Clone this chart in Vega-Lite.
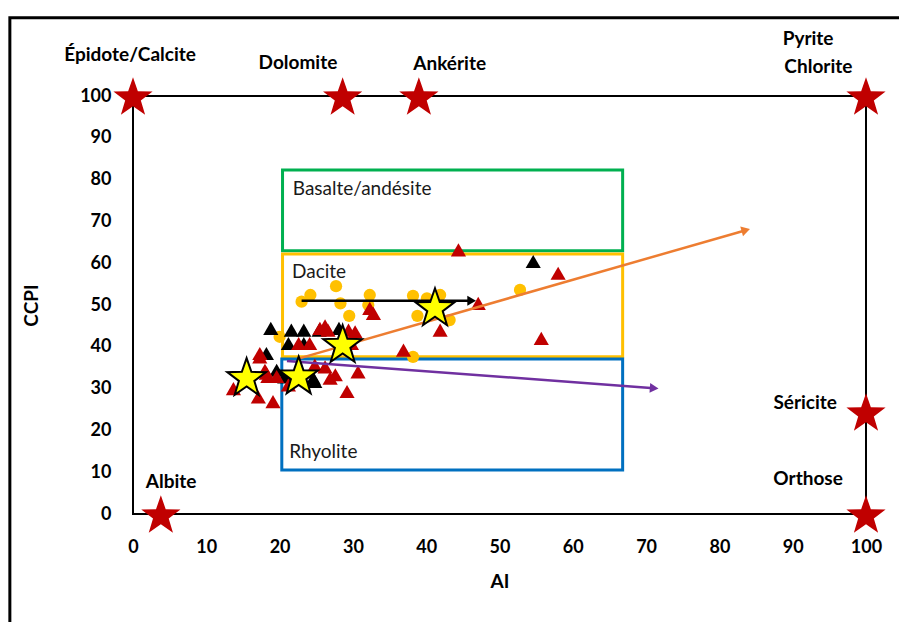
{
  "$schema": "https://vega.github.io/schema/vega-lite/v6.json",
  "width": 733,
  "height": 418,
  "autosize": "none",
  "padding": {"left": 133, "top": 96, "right": 33, "bottom": 108},
  "background": "white",
  "config": {
    "font": "Lato",
    "view": {"stroke": "black", "strokeWidth": 2},
    "axis": {"grid": false, "ticks": false, "domain": false, "labelFlush": false, "labelFont": "Lato", "labelFontWeight": "bold", "labelFontSize": 18, "labelColor": "black", "titleFont": "Lato", "titleFontWeight": "bold", "titleFontSize": 19, "titleColor": "black"}
  },
  "datasets": {
    "pts": [
      {"t": "circle", "AI": 23.0, "CCPI": 50.8},
      {"t": "circle", "AI": 24.2, "CCPI": 52.4},
      {"t": "circle", "AI": 27.7, "CCPI": 54.5},
      {"t": "circle", "AI": 28.3, "CCPI": 50.4},
      {"t": "circle", "AI": 29.5, "CCPI": 47.4},
      {"t": "circle", "AI": 32.3, "CCPI": 52.4},
      {"t": "circle", "AI": 32.1, "CCPI": 50.0},
      {"t": "circle", "AI": 38.2, "CCPI": 52.2},
      {"t": "circle", "AI": 38.8, "CCPI": 47.4},
      {"t": "circle", "AI": 40.1, "CCPI": 51.6},
      {"t": "circle", "AI": 41.9, "CCPI": 52.4},
      {"t": "circle", "AI": 43.2, "CCPI": 46.4},
      {"t": "circle", "AI": 52.8, "CCPI": 53.6},
      {"t": "circle", "AI": 38.2, "CCPI": 37.6},
      {"t": "circle", "AI": 20.0, "CCPI": 42.4},
      {"t": "black", "AI": 18.8, "CCPI": 44.4},
      {"t": "black", "AI": 21.6, "CCPI": 44.0},
      {"t": "black", "AI": 23.3, "CCPI": 44.0},
      {"t": "black", "AI": 25.4, "CCPI": 44.0},
      {"t": "black", "AI": 28.1, "CCPI": 44.4},
      {"t": "black", "AI": 18.2, "CCPI": 38.4},
      {"t": "black", "AI": 21.2, "CCPI": 40.8},
      {"t": "black", "AI": 23.3, "CCPI": 40.8},
      {"t": "black", "AI": 19.6, "CCPI": 34.4},
      {"t": "black", "AI": 20.7, "CCPI": 32.8},
      {"t": "black", "AI": 24.6, "CCPI": 32.5},
      {"t": "black", "AI": 24.8, "CCPI": 31.7},
      {"t": "black", "AI": 54.6, "CCPI": 60.4},
      {"t": "red", "AI": 26.2, "CCPI": 45.0},
      {"t": "red", "AI": 29.4, "CCPI": 44.0},
      {"t": "red", "AI": 22.6, "CCPI": 40.8},
      {"t": "red", "AI": 24.1, "CCPI": 40.8},
      {"t": "red", "AI": 17.3, "CCPI": 37.6},
      {"t": "red", "AI": 18.0, "CCPI": 34.4},
      {"t": "red", "AI": 13.7, "CCPI": 30.0},
      {"t": "red", "AI": 17.1, "CCPI": 28.0},
      {"t": "red", "AI": 19.1, "CCPI": 26.9},
      {"t": "red", "AI": 21.2, "CCPI": 30.9},
      {"t": "red", "AI": 26.9, "CCPI": 32.5},
      {"t": "red", "AI": 27.6, "CCPI": 33.3},
      {"t": "red", "AI": 29.2, "CCPI": 29.3},
      {"t": "red", "AI": 29.8, "CCPI": 40.8},
      {"t": "red", "AI": 18.4, "CCPI": 32.9},
      {"t": "red", "AI": 25.5, "CCPI": 44.4},
      {"t": "red", "AI": 26.6, "CCPI": 44.0},
      {"t": "red", "AI": 30.3, "CCPI": 43.6},
      {"t": "red", "AI": 30.7, "CCPI": 34.0},
      {"t": "red", "AI": 26.2, "CCPI": 35.2},
      {"t": "red", "AI": 24.8, "CCPI": 35.6},
      {"t": "red", "AI": 32.8, "CCPI": 48.0},
      {"t": "red", "AI": 32.3, "CCPI": 49.2},
      {"t": "red", "AI": 17.3, "CCPI": 38.4},
      {"t": "red", "AI": 18.2, "CCPI": 33.7},
      {"t": "red", "AI": 19.6, "CCPI": 32.9},
      {"t": "red", "AI": 44.4, "CCPI": 63.2},
      {"t": "red", "AI": 58.0, "CCPI": 57.6},
      {"t": "red", "AI": 47.1, "CCPI": 50.4},
      {"t": "red", "AI": 41.9, "CCPI": 44.0},
      {"t": "red", "AI": 55.7, "CCPI": 42.0},
      {"t": "red", "AI": 36.9, "CCPI": 39.2},
      {"t": "star", "AI": 15.5, "CCPI": 32.9},
      {"t": "star", "AI": 22.6, "CCPI": 33.3},
      {"t": "star", "AI": 28.6, "CCPI": 40.8},
      {"t": "star", "AI": 41.2, "CCPI": 49.6}
    ],
    "boxes": [
      {"box": "Basalte/andésite", "x1": 20.4, "x2": 66.8, "y1": 63.0, "y2": 82.3, "lx": 21.8, "ly": 77.8},
      {"box": "Dacite", "x1": 20.4, "x2": 66.8, "y1": 37.6, "y2": 62.2, "lx": 21.7, "ly": 58.0},
      {"box": "Rhyolite", "x1": 20.3, "x2": 66.8, "y1": 10.5, "y2": 37.1, "lx": 21.3, "ly": 14.8}
    ],
    "arrows": [
      {"arrow": "orange", "AI": 22.8, "CCPI": 37.3, "end": false},
      {"arrow": "orange", "AI": 83.6, "CCPI": 67.9, "end": true},
      {"arrow": "purple", "AI": 21.0, "CCPI": 36.6, "end": false},
      {"arrow": "purple", "AI": 71.1, "CCPI": 30.1, "end": true},
      {"arrow": "black", "AI": 23.0, "CCPI": 51.0, "end": false},
      {"arrow": "black", "AI": 46.2, "CCPI": 51.0, "end": true}
    ],
    "minerals": [
      {"AI": 0, "CCPI": 100},
      {"AI": 28.6, "CCPI": 100},
      {"AI": 39, "CCPI": 100},
      {"AI": 100, "CCPI": 100},
      {"AI": 100, "CCPI": 24.4},
      {"AI": 100, "CCPI": 0},
      {"AI": 3.8, "CCPI": 0}
    ],
    "mlabels": [
      {"name": "Épidote/Calcite", "AI": -0.4, "CCPI": 109.8},
      {"name": "Dolomite", "AI": 22.5, "CCPI": 107.9},
      {"name": "Ankérite", "AI": 43.2, "CCPI": 107.7},
      {"name": "Pyrite", "AI": 92.1, "CCPI": 113.6},
      {"name": "Chlorite", "AI": 93.5, "CCPI": 106.9},
      {"name": "Séricite", "AI": 91.7, "CCPI": 26.6},
      {"name": "Orthose", "AI": 92.1, "CCPI": 8.4},
      {"name": "Albite", "AI": 5.2, "CCPI": 7.7}
    ]
  },
  "layer": [
    {
      "data": {"values": [{"frame": "outer"}]},
      "mark": {"type": "rect", "fill": null, "stroke": "black", "strokeWidth": 3},
      "encoding": {
        "x": {"datum": -16.8, "type": "quantitative", "scale": {"domain": [0, 100], "nice": false}, "axis": {"values": [0,10,20,30,40,50,60,70,80,90,100], "title": "AI", "labelPadding": 24, "titlePadding": 16}},
        "x2": {"datum": 112},
        "y": {"datum": 118.7, "type": "quantitative", "scale": {"domain": [0, 100], "nice": false}, "axis": {"values": [0,10,20,30,40,50,60,70,80,90,100], "title": "CCPI", "labelPadding": 22, "titlePadding": 38}},
        "y2": {"datum": -40}
      }
    },
    {
      "data": {"name": "boxes"},
      "mark": {"type": "rect", "fill": null, "strokeWidth": 3},
      "encoding": {
        "x": {"field": "x1", "type": "quantitative"},
        "x2": {"field": "x2"},
        "y": {"field": "y1", "type": "quantitative"},
        "y2": {"field": "y2"},
        "stroke": {"field": "box", "type": "nominal", "scale": {"domain": ["Basalte/andésite", "Dacite", "Rhyolite"], "range": ["#00B050", "#FFC000", "#0070C0"]}, "legend": null}
      }
    },
    {
      "data": {"name": "boxes"},
      "mark": {"type": "text", "align": "left", "baseline": "middle", "fontSize": 19, "color": "#1a1a1a"},
      "encoding": {
        "x": {"field": "lx", "type": "quantitative"},
        "y": {"field": "ly", "type": "quantitative"},
        "text": {"field": "box"}
      }
    },
    {
      "data": {"name": "pts"},
      "transform": [{"filter": "datum.t === 'circle'"}],
      "mark": {"type": "point", "shape": "circle", "filled": true, "opacity": 1, "color": "#FFC000", "size": 150},
      "encoding": {"x": {"field": "AI", "type": "quantitative"}, "y": {"field": "CCPI", "type": "quantitative"}}
    },
    {
      "data": {"name": "pts"},
      "transform": [{"filter": "datum.t === 'black'"}],
      "mark": {"type": "point", "shape": "triangle-up", "filled": true, "opacity": 1, "color": "black", "size": 230},
      "encoding": {"x": {"field": "AI", "type": "quantitative"}, "y": {"field": "CCPI", "type": "quantitative"}}
    },
    {
      "data": {"name": "pts"},
      "transform": [{"filter": "datum.t === 'red'"}],
      "mark": {"type": "point", "shape": "triangle-up", "filled": true, "opacity": 1, "color": "#C00000", "size": 230},
      "encoding": {"x": {"field": "AI", "type": "quantitative"}, "y": {"field": "CCPI", "type": "quantitative"}}
    },
    {
      "data": {"name": "arrows"},
      "mark": {"type": "line", "strokeWidth": 2.5},
      "encoding": {
        "x": {"field": "AI", "type": "quantitative"},
        "y": {"field": "CCPI", "type": "quantitative"},
        "detail": {"field": "arrow"},
        "color": {"field": "arrow", "type": "nominal", "scale": {"domain": ["orange", "purple", "black"], "range": ["#ED7D31", "#7030A0", "#000000"]}, "legend": null}
      }
    },
    {
      "data": {"name": "arrows"},
      "transform": [{"filter": "datum.end && datum.arrow === 'orange'"}],
      "mark": {"type": "point", "shape": "triangle-right", "filled": true, "opacity": 1, "color": "#ED7D31", "size": 100, "angle": -16},
      "encoding": {"x": {"field": "AI", "type": "quantitative"}, "y": {"field": "CCPI", "type": "quantitative"}}
    },
    {
      "data": {"name": "arrows"},
      "transform": [{"filter": "datum.end && datum.arrow === 'purple'"}],
      "mark": {"type": "point", "shape": "triangle-right", "filled": true, "opacity": 1, "color": "#7030A0", "size": 100, "angle": 4},
      "encoding": {"x": {"field": "AI", "type": "quantitative"}, "y": {"field": "CCPI", "type": "quantitative"}}
    },
    {
      "data": {"name": "arrows"},
      "transform": [{"filter": "datum.end && datum.arrow === 'black'"}],
      "mark": {"type": "point", "shape": "triangle-right", "filled": true, "opacity": 1, "color": "black", "size": 100},
      "encoding": {"x": {"field": "AI", "type": "quantitative"}, "y": {"field": "CCPI", "type": "quantitative"}}
    },
    {
      "data": {"name": "pts"},
      "transform": [{"filter": "datum.t === 'star'"}],
      "mark": {"type": "point", "shape": "M0,-0.905L0.2351,-0.2286L0.9511,-0.214L0.3804,0.2186L0.5878,0.904L0,0.495L-0.5878,0.904L-0.3804,0.2186L-0.9511,-0.214L-0.2351,-0.2286Z", "filled": true, "opacity": 1, "fill": "#FFFF00", "stroke": "black", "strokeWidth": 2, "size": 1650},
      "encoding": {"x": {"field": "AI", "type": "quantitative"}, "y": {"field": "CCPI", "type": "quantitative"}}
    },
    {
      "data": {"name": "minerals"},
      "mark": {"type": "point", "shape": "M0,-0.905L0.2351,-0.2286L0.9511,-0.214L0.3804,0.2186L0.5878,0.904L0,0.495L-0.5878,0.904L-0.3804,0.2186L-0.9511,-0.214L-0.2351,-0.2286Z", "filled": true, "opacity": 1, "color": "#C00000", "size": 1700},
      "encoding": {"x": {"field": "AI", "type": "quantitative"}, "y": {"field": "CCPI", "type": "quantitative"}}
    },
    {
      "data": {"name": "mlabels"},
      "mark": {"type": "text", "align": "center", "baseline": "middle", "fontSize": 19, "fontWeight": "bold", "color": "black"},
      "encoding": {
        "x": {"field": "AI", "type": "quantitative"},
        "y": {"field": "CCPI", "type": "quantitative"},
        "text": {"field": "name"}
      }
    }
  ]
}
